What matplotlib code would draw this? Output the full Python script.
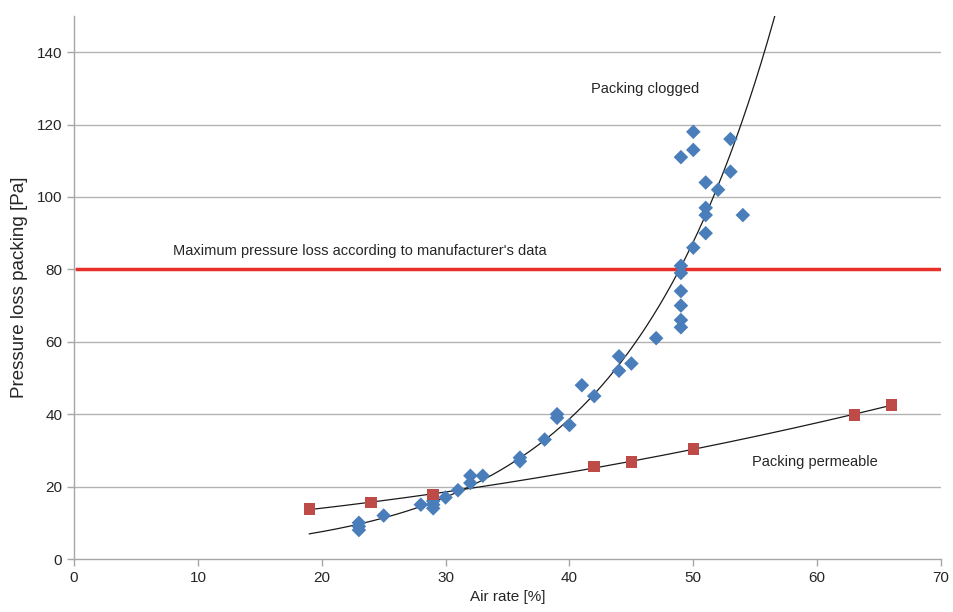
import numpy as np
import matplotlib
matplotlib.use("Agg")
import matplotlib.pyplot as plt

plt.rcParams['font.family'] = ['Liberation Sans', 'DejaVu Sans']

# Blue diamonds: packing clogged series
clog_x = [23, 23, 23, 25, 28, 29, 29, 29, 30, 31, 32, 32, 33, 36, 36, 38, 39, 39, 40,
          41, 42, 44, 44, 45, 47, 49, 49, 49, 49, 49, 49, 50, 49, 50, 50, 51, 51, 51,
          51, 52, 53, 53, 54]
clog_y = [10, 9, 8, 12, 15, 16, 15, 14, 17, 19, 23, 21, 23, 28, 27, 33, 40, 39, 37,
          48, 45, 56, 52, 54, 61, 64, 66, 70, 74, 79, 81, 86, 111, 118, 113, 104, 97, 95,
          90, 102, 116, 107, 95]

# Red squares: packing permeable series
perm_x = [19, 24, 29, 42, 45, 50, 63, 66]
perm_y = [13.8, 15.6, 17.8, 25.5, 26.8, 30.4, 39.8, 42.6]

max_loss = 80
xticks = [0, 10, 20, 30, 40, 50, 60, 70]
yticks = [0, 20, 40, 60, 80, 100, 120, 140]

fig = plt.figure(figsize=(9.54, 6.12), dpi=100)
ax = fig.add_axes([0.0776, 0.0866, 0.9088, 0.8873])

grid_c = '#b3b3b3'
for yv in yticks[1:]:
    ax.axhline(yv, color=grid_c, lw=1.0, zorder=0)

# Exponential trend for clogged series (fit of ln(y) on x)
b, lna = np.polyfit(clog_x, np.log(clog_y), 1)
xc = np.linspace(19, 60, 400)
ax.plot(xc, np.exp(lna) * np.exp(b * xc), color='#1a1a1a', lw=0.9, zorder=2)

# Polynomial trend for permeable series
pc = np.polyfit(perm_x, perm_y, 2)
xp = np.linspace(min(perm_x), max(perm_x), 200)
ax.plot(xp, np.polyval(pc, xp), color='#1a1a1a', lw=0.9, zorder=2)

ax.plot([0.2, 70], [max_loss, max_loss], color='#e8302a', lw=2.5, zorder=3)

ax.scatter(clog_x, clog_y, marker='D', s=55, color='#4a7ebb', edgecolors='none', zorder=4)
ax.scatter(perm_x, perm_y, marker='s', s=70, color='#be4b48', edgecolors='none', zorder=4)

ax.set_xlim(0, 70)
ax.set_ylim(0, 150)
ax.set_xticks(xticks)
ax.set_yticks(yticks)
for s in ['top', 'right']:
    ax.spines[s].set_visible(False)
for s in ['left', 'bottom']:
    ax.spines[s].set_color('#a6a6a6')
    ax.spines[s].set_linewidth(1.0)
ax.tick_params(axis='both', colors='#a6a6a6', length=5, width=1.0, labelcolor='#262626')
ax.tick_params(axis='y', labelsize=11)
ax.tick_params(axis='x', labelsize=11)

ax.set_xlabel('Air rate [%]', fontsize=11, color='#262626', labelpad=4)
ax.set_ylabel('Pressure loss packing [Pa]', fontsize=13.5, color='#262626', labelpad=6)

ax.text(46.1, 129.8, 'Packing clogged', fontsize=10.5, color='#262626', ha='center', va='center')
ax.text(23.1, 85.0, "Maximum pressure loss according to manufacturer's data", fontsize=10.5,
        color='#262626', ha='center', va='center')
ax.text(59.8, 26.8, 'Packing permeable', fontsize=10.5, color='#262626', ha='center', va='center')

fig.savefig('out.png', dpi=100)
